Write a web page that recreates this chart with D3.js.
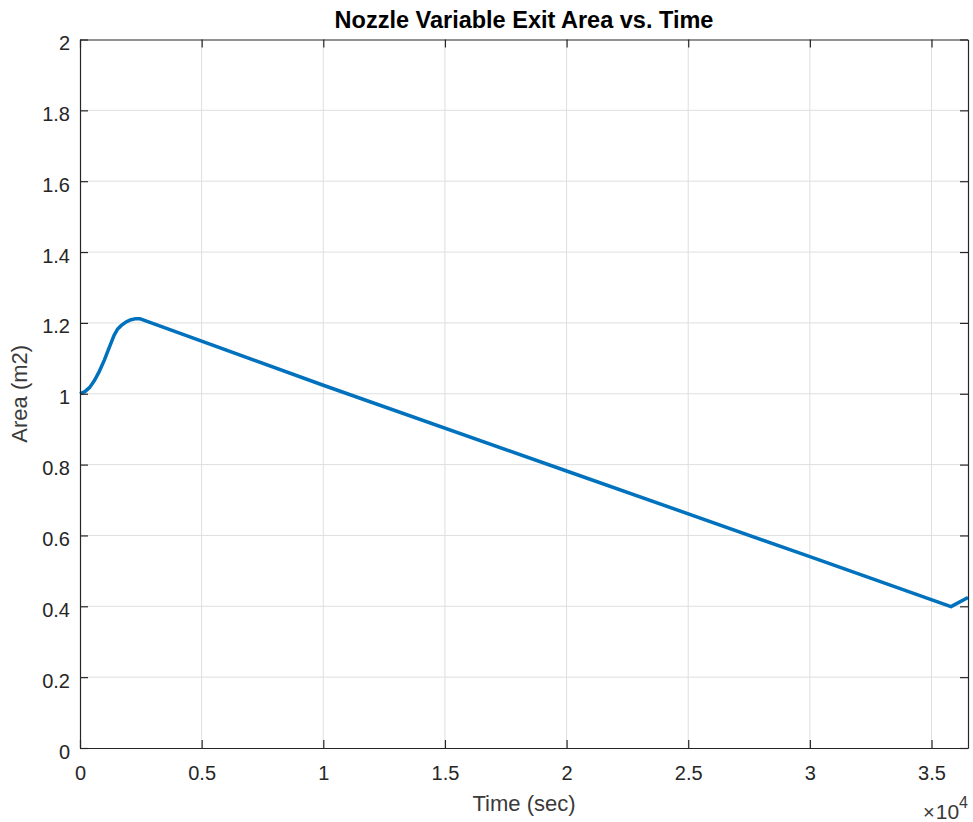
<!DOCTYPE html>
<html>
<head>
<meta charset="utf-8">
<style>
  body { margin: 0; background: #fff; }
  text { font-family: "Liberation Sans", Arial, sans-serif; fill: #262626; }
</style>
</head>
<body>
<svg width="973" height="822"></svg>
<script src="https://d3js.org/d3.v7.min.js"></script>
<script>
// time (sec) and nozzle exit area (m2)
var timeSec = [0, 200, 400, 600, 800, 1000, 1200, 1400, 1550, 1700, 1900, 2100, 2300, 2450,
               10000, 20000, 30000, 35800, 36500];
var areaM2  = [1.000, 1.006, 1.018, 1.038, 1.064, 1.095, 1.130, 1.165, 1.183, 1.193, 1.203, 1.209, 1.212, 1.212,
               1.024, 0.782, 0.540, 0.399, 0.425];
var xTicks = [0, 5000, 10000, 15000, 20000, 25000, 30000, 35000];
var yTicks = [0, 0.2, 0.4, 0.6, 0.8, 1, 1.2, 1.4, 1.6, 1.8, 2];

var svg = d3.select("svg"),
    pLeft = 80, pRight = 968, pTop = 39.5, pBottom = 748;

var x = d3.scaleLinear().domain([0, 36500]).range([pLeft, pRight]);
var y = d3.scaleLinear().domain([0, 2]).range([pBottom, pTop]);

// grid
svg.append("g").selectAll("line").data(xTicks.slice(1)).enter().append("line")
    .attr("x1", d => x(d)).attr("x2", d => x(d))
    .attr("y1", pTop).attr("y2", pBottom)
    .attr("stroke", "#dfdfdf").attr("stroke-width", 1);
svg.append("g").selectAll("line").data(yTicks.slice(1, -1)).enter().append("line")
    .attr("y1", d => y(d)).attr("y2", d => y(d))
    .attr("x1", pLeft).attr("x2", pRight)
    .attr("stroke", "#dfdfdf").attr("stroke-width", 1);

// data line
var line = d3.line().x((d, i) => x(timeSec[i])).y(d => y(d));
svg.append("path").datum(areaM2)
    .attr("d", line)
    .attr("fill", "none")
    .attr("stroke", "#0072BD")
    .attr("stroke-width", 3.5)
    .attr("stroke-linejoin", "round");

// axes: ticks point inward, box on all sides
var fmtX = d => d3.format("~g")(d / 10000);
var xAxis = svg.append("g").attr("transform", "translate(0," + pBottom + ")")
    .call(d3.axisBottom(x).tickValues(xTicks).tickFormat(fmtX).tickSizeInner(-8).tickSizeOuter(0).tickPadding(18));
var xTop = svg.append("g").attr("transform", "translate(0," + pTop + ")")
    .call(d3.axisTop(x).tickValues(xTicks).tickFormat("").tickSizeInner(-8).tickSizeOuter(0));
var yAxis = svg.append("g").attr("transform", "translate(" + pLeft + ",0)")
    .call(d3.axisLeft(y).tickValues(yTicks).tickFormat(d3.format("~g")).tickSizeInner(-8).tickSizeOuter(0).tickPadding(10));
var yRight = svg.append("g").attr("transform", "translate(" + pRight + ",0)")
    .call(d3.axisRight(y).tickValues(yTicks).tickFormat("").tickSizeInner(-8).tickSizeOuter(0));

[xAxis, xTop, yAxis, yRight].forEach(function (g) {
  g.select(".domain").attr("stroke", "#262626").attr("stroke-width", 1.2);
  g.selectAll(".tick line").attr("stroke", "#262626").attr("stroke-width", 1.2);
  g.selectAll("text").style("font-family", "'Liberation Sans', Arial, sans-serif")
    .style("font-size", "20px").attr("fill", "#3a3a3a");
});
yAxis.selectAll(".tick text").attr("dy", "0.5em");

// title and labels
svg.append("text").attr("x", (pLeft + pRight) / 2).attr("y", 28)
    .attr("text-anchor", "middle").style("font-weight", "bold").style("font-size", "23.5px")
    .style("fill", "#000")
    .text("Nozzle Variable Exit Area vs. Time");
svg.append("text").attr("x", (pLeft + pRight) / 2).attr("y", 811)
    .attr("text-anchor", "middle").style("font-size", "22px").style("fill", "#3a3a3a")
    .text("Time (sec)");
svg.append("text").attr("transform", "translate(27," + y(1) + ") rotate(-90)")
    .attr("text-anchor", "middle").style("font-size", "22px").style("fill", "#3a3a3a")
    .text("Area (m2)");

var mult = svg.append("text").attr("x", 968).attr("y", 819).attr("text-anchor", "end")
    .style("font-size", "21px").style("fill", "#3a3a3a");
mult.append("tspan").text("\u00d7").style("font-size", "20px");
mult.append("tspan").text("10").attr("dx", 1);
mult.append("tspan").text("4").attr("dy", -11).style("font-size", "16px");
</script>
</body>
</html>
